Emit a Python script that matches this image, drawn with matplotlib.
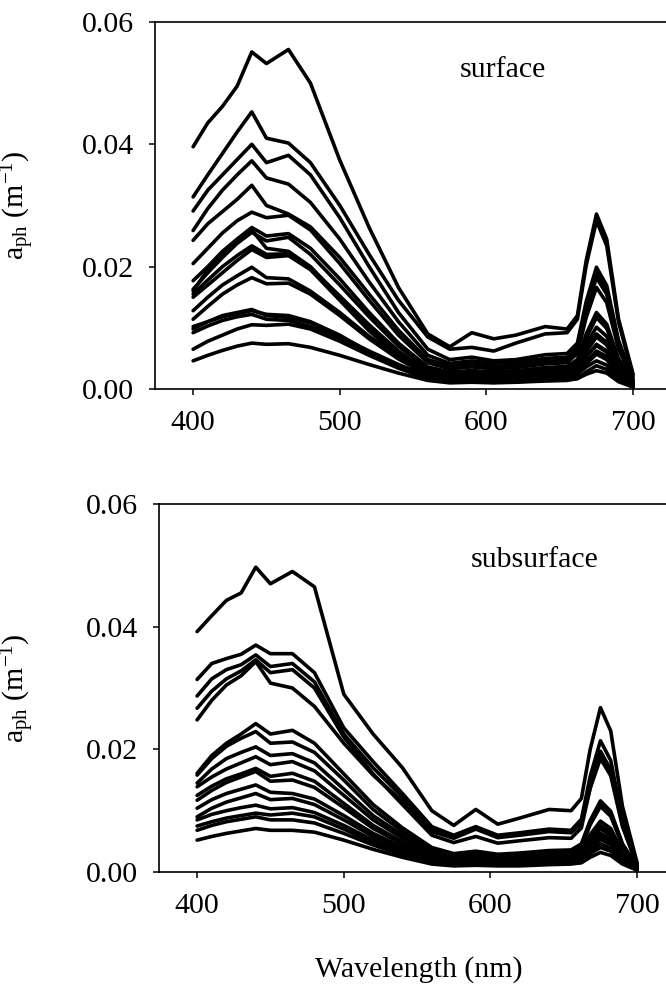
import matplotlib
matplotlib.use("Agg")
import matplotlib.pyplot as plt
import numpy as np

plt.rcParams['font.family'] = 'Liberation Serif'
plt.rcParams['mathtext.fontset'] = 'custom'
plt.rcParams['mathtext.rm'] = 'Liberation Serif'
plt.rcParams['mathtext.it'] = 'Liberation Serif:italic'

WAVELENGTH = [400, 410, 420, 430, 440, 450, 465, 480, 500, 520, 540, 560,
              575, 590, 605, 620, 640, 655, 662, 668, 675, 682, 690, 700]

# a_ph in 10^-3 m^-1, one row per station
SURFACE = [
    [39.6, 43.5, 46.2, 49.5, 55.1, 53.2, 55.5, 50.0, 37.4, 26.4, 16.6, 9.0, 6.9, 9.2, 8.2, 8.8, 10.2, 9.8, 12.0, 21.0, 28.6, 24.5, 11.5, 2.4],
    [31.4, 35.0, 38.5, 42.0, 45.3, 41.0, 40.2, 37.0, 30.0, 22.0, 14.5, 8.5, 6.5, 6.8, 6.2, 7.5, 9.0, 9.2, 11.4, 20.2, 27.5, 23.4, 11.0, 2.0],
    [29.1, 32.5, 35.0, 37.5, 40.0, 37.0, 38.2, 35.0, 28.0, 20.0, 12.5, 6.5, 4.8, 5.2, 4.6, 4.8, 5.6, 5.8, 7.5, 14.3, 19.9, 16.9, 8.0, 1.5],
    [25.9, 29.5, 32.5, 35.0, 37.3, 34.5, 33.5, 30.5, 24.5, 17.5, 11.0, 5.5, 4.2, 4.6, 4.2, 4.4, 5.0, 5.2, 6.9, 13.5, 19.0, 16.2, 7.6, 1.4],
    [24.3, 27.0, 29.0, 31.0, 33.3, 30.0, 28.6, 26.5, 21.5, 15.5, 9.6, 4.8, 3.8, 4.1, 3.7, 3.9, 4.5, 4.7, 6.3, 12.8, 18.2, 15.5, 7.3, 1.3],
    [20.5, 23.0, 25.5, 27.5, 28.9, 28.0, 28.4, 26.0, 20.5, 14.5, 8.8, 4.3, 3.3, 3.6, 3.3, 3.5, 4.1, 4.3, 5.8, 11.7, 16.6, 14.1, 6.6, 1.2],
    [17.7, 20.0, 22.5, 24.5, 26.4, 25.0, 25.4, 23.0, 18.0, 12.5, 7.5, 3.6, 2.8, 3.0, 2.8, 3.0, 3.5, 3.7, 4.8, 9.0, 12.5, 10.6, 5.0, 1.0],
    [16.3, 19.0, 21.5, 23.8, 25.6, 24.2, 24.8, 22.0, 17.0, 11.8, 7.0, 3.3, 2.5, 2.7, 2.5, 2.6, 3.1, 3.3, 4.3, 8.3, 11.7, 9.9, 4.7, 0.9],
    [15.5, 17.8, 20.0, 21.8, 23.4, 22.0, 22.1, 19.8, 15.2, 10.5, 6.2, 2.9, 2.2, 2.4, 2.2, 2.3, 2.8, 3.0, 3.9, 7.3, 10.1, 8.6, 4.0, 0.8],
    [12.8, 15.0, 17.0, 18.5, 19.9, 18.2, 18.0, 16.0, 12.5, 8.6, 5.2, 2.5, 1.9, 2.1, 1.9, 2.0, 2.4, 2.6, 3.4, 6.4, 9.0, 7.6, 3.6, 0.7],
    [11.4, 13.5, 15.5, 17.0, 18.2, 17.2, 17.3, 15.5, 12.0, 8.2, 4.9, 2.3, 1.7, 1.9, 1.7, 1.8, 2.2, 2.4, 3.1, 6.1, 8.5, 7.2, 3.4, 0.6],
    [9.8, 11.0, 12.0, 12.5, 13.0, 12.0, 11.7, 10.8, 8.6, 6.2, 4.0, 2.1, 1.6, 1.8, 1.6, 1.7, 2.0, 2.2, 2.8, 5.3, 7.3, 6.2, 2.9, 0.5],
    [9.2, 10.3, 11.2, 11.8, 12.2, 11.4, 11.2, 10.2, 8.2, 5.8, 3.7, 1.9, 1.4, 1.6, 1.4, 1.5, 1.8, 2.0, 2.5, 4.5, 6.2, 5.3, 2.5, 0.5],
    [6.5, 7.8, 8.8, 9.8, 10.5, 10.4, 10.6, 9.8, 7.8, 5.5, 3.4, 1.7, 1.3, 1.4, 1.3, 1.4, 1.7, 1.8, 2.3, 4.1, 5.7, 4.8, 2.3, 0.4],
    [4.6, 5.5, 6.3, 7.0, 7.5, 7.3, 7.4, 6.8, 5.5, 4.0, 2.6, 1.4, 1.0, 1.1, 1.0, 1.1, 1.3, 1.4, 1.7, 2.8, 3.8, 3.2, 1.5, 0.3],
    [16.0, 19.5, 22.0, 24.0, 26.0, 23.0, 22.5, 20.0, 15.0, 10.0, 5.8, 2.7, 2.0, 2.2, 2.0, 2.1, 2.5, 2.7, 3.2, 5.3, 7.1, 6.0, 2.8, 0.5],
    [15.0, 17.0, 19.0, 21.0, 22.8, 21.5, 21.8, 19.5, 14.5, 9.5, 5.3, 2.2, 1.6, 1.7, 1.6, 1.7, 2.0, 2.1, 2.4, 3.6, 4.6, 3.9, 1.8, 0.4],
    [10.2, 11.0, 11.8, 12.3, 12.8, 12.2, 12.0, 11.0, 8.8, 6.0, 3.6, 1.6, 1.1, 1.2, 1.1, 1.2, 1.4, 1.5, 1.7, 2.4, 3.0, 2.6, 1.2, 0.3],
]

SUBSURFACE = [
    [39.2, 41.8, 44.3, 45.5, 49.7, 47.0, 49.0, 46.5, 29.0, 22.5, 17.0, 10.0, 7.6, 10.2, 7.8, 8.8, 10.2, 10.0, 12.0, 20.0, 26.8, 23.0, 10.7, 1.5],
    [31.4, 34.0, 34.8, 35.5, 37.0, 35.6, 35.6, 32.5, 23.5, 18.0, 12.8, 7.4, 6.0, 7.4, 6.0, 6.4, 7.0, 6.8, 8.6, 15.6, 21.4, 18.2, 8.6, 1.2],
    [28.7, 31.5, 33.0, 33.8, 35.4, 33.5, 34.0, 31.0, 22.5, 17.0, 12.2, 7.0, 5.8, 7.2, 5.8, 6.2, 6.8, 6.6, 8.2, 14.5, 19.7, 16.7, 7.9, 1.1],
    [24.8, 28.0, 30.5, 32.0, 34.3, 30.8, 30.0, 27.0, 21.0, 15.8, 11.5, 6.6, 5.5, 7.0, 5.6, 6.0, 6.6, 6.4, 7.9, 13.7, 18.5, 15.7, 7.4, 1.0],
    [26.7, 29.5, 31.5, 32.8, 34.6, 32.5, 33.0, 30.0, 22.0, 16.0, 11.0, 6.0, 4.8, 5.8, 4.7, 5.1, 5.6, 5.5, 7.2, 13.7, 19.2, 16.3, 7.7, 1.0],
    [16.1, 19.0, 21.0, 22.5, 24.2, 22.5, 23.1, 21.0, 16.0, 11.0, 7.2, 4.0, 3.0, 3.4, 2.9, 3.1, 3.5, 3.6, 4.6, 8.4, 11.6, 9.9, 4.6, 0.8],
    [15.8, 18.5, 20.5, 21.8, 22.9, 21.0, 21.2, 19.5, 15.0, 10.2, 6.6, 3.6, 2.8, 3.1, 2.7, 2.9, 3.3, 3.4, 4.4, 8.1, 11.3, 9.6, 4.5, 0.8],
    [14.5, 16.8, 18.5, 19.5, 20.4, 19.0, 19.3, 17.8, 13.5, 9.2, 6.0, 3.3, 2.5, 2.8, 2.4, 2.6, 3.0, 3.1, 4.0, 7.7, 10.7, 9.1, 4.3, 0.7],
    [13.9, 15.5, 16.8, 17.8, 18.8, 17.5, 18.0, 16.5, 12.5, 8.5, 5.5, 3.0, 2.3, 2.6, 2.2, 2.4, 2.8, 2.9, 3.5, 6.1, 8.3, 7.1, 3.3, 0.6],
    [12.5, 14.0, 15.2, 16.0, 16.9, 15.6, 16.1, 14.8, 11.2, 7.6, 4.9, 2.7, 2.1, 2.3, 2.0, 2.2, 2.5, 2.6, 3.2, 5.6, 7.6, 6.5, 3.0, 0.5],
    [11.7, 13.3, 14.6, 15.5, 16.4, 14.8, 15.0, 13.8, 10.5, 7.1, 4.6, 2.5, 1.9, 2.1, 1.8, 2.0, 2.3, 2.4, 3.0, 5.2, 7.0, 6.0, 2.8, 0.5],
    [10.4, 11.8, 12.8, 13.5, 14.2, 13.0, 12.8, 11.9, 9.2, 6.3, 4.1, 2.2, 1.7, 1.9, 1.6, 1.8, 2.1, 2.2, 2.7, 4.7, 6.3, 5.4, 2.5, 0.4],
    [9.0, 10.4, 11.4, 12.1, 12.8, 11.8, 12.0, 11.0, 8.5, 5.8, 3.8, 2.0, 1.5, 1.7, 1.5, 1.6, 1.9, 2.0, 2.5, 4.3, 5.8, 4.9, 2.3, 0.4],
    [8.5, 9.4, 10.0, 10.5, 10.9, 10.3, 10.5, 9.7, 7.6, 5.2, 3.4, 1.8, 1.4, 1.5, 1.3, 1.4, 1.7, 1.8, 2.2, 3.9, 5.3, 4.5, 2.1, 0.4],
    [7.5, 8.2, 8.8, 9.2, 9.6, 9.3, 9.6, 9.0, 7.0, 4.8, 3.1, 1.7, 1.3, 1.4, 1.2, 1.3, 1.5, 1.6, 2.0, 3.4, 4.6, 3.9, 1.8, 0.3],
    [6.8, 7.6, 8.2, 8.6, 9.0, 8.5, 8.5, 8.0, 6.3, 4.4, 2.8, 1.5, 1.1, 1.2, 1.1, 1.2, 1.4, 1.5, 1.8, 3.0, 4.0, 3.4, 1.6, 0.3],
    [5.2, 5.8, 6.3, 6.7, 7.1, 6.8, 6.8, 6.5, 5.2, 3.7, 2.4, 1.3, 1.0, 1.1, 1.0, 1.0, 1.2, 1.3, 1.5, 2.4, 3.2, 2.7, 1.3, 0.3],
]

PANEL_LABELS = ["surface", "subsurface"]
Y_TICKS = [0.00, 0.02, 0.04, 0.06]
X_TICKS = [400, 500, 600, 700]

FS = 21.5

fig = plt.figure(figsize=(6.66, 9.85), dpi=100)
ax_top = fig.add_axes([0.2327, 0.6051, 0.773, 0.3726])
ax_bot = fig.add_axes([0.2387, 0.1147, 0.773, 0.3736])


def draw_panel(ax, curves, label, label_xy):
    wl = np.array(WAVELENGTH)
    for c in curves:
        ax.plot(wl, np.array(c) / 1000.0, color='black', lw=2.6,
                solid_joinstyle='round', solid_capstyle='round')
    ax.set_xlim(374, 725)
    ax.set_ylim(0, 0.06)
    ax.set_xticks(X_TICKS)
    ax.set_yticks(Y_TICKS)
    ax.set_yticklabels([f"{v:.2f}" for v in Y_TICKS])
    ax.tick_params(direction='out', length=4, width=1.1, labelsize=FS, pad=11)
    for s in ax.spines.values():
        s.set_linewidth(1.2)
    ax.text(label_xy[0], label_xy[1], label, fontsize=FS, ha='center', va='center')
    ax.set_ylabel(r'a$_{\mathrm{ph}}$ (m$^{-1}$)', fontsize=FS)


draw_panel(ax_top, SURFACE, PANEL_LABELS[0], (611, 0.0521))
draw_panel(ax_bot, SUBSURFACE, PANEL_LABELS[1], (630, 0.0509))
ax_top.yaxis.set_label_coords(-0.229, 0.5)
ax_bot.yaxis.set_label_coords(-0.237, 0.5)

fig.text(419 / 666, 1 - 970 / 985, "Wavelength (nm)", fontsize=FS, ha='center', va='center')

fig.savefig("out.png", dpi=100)
